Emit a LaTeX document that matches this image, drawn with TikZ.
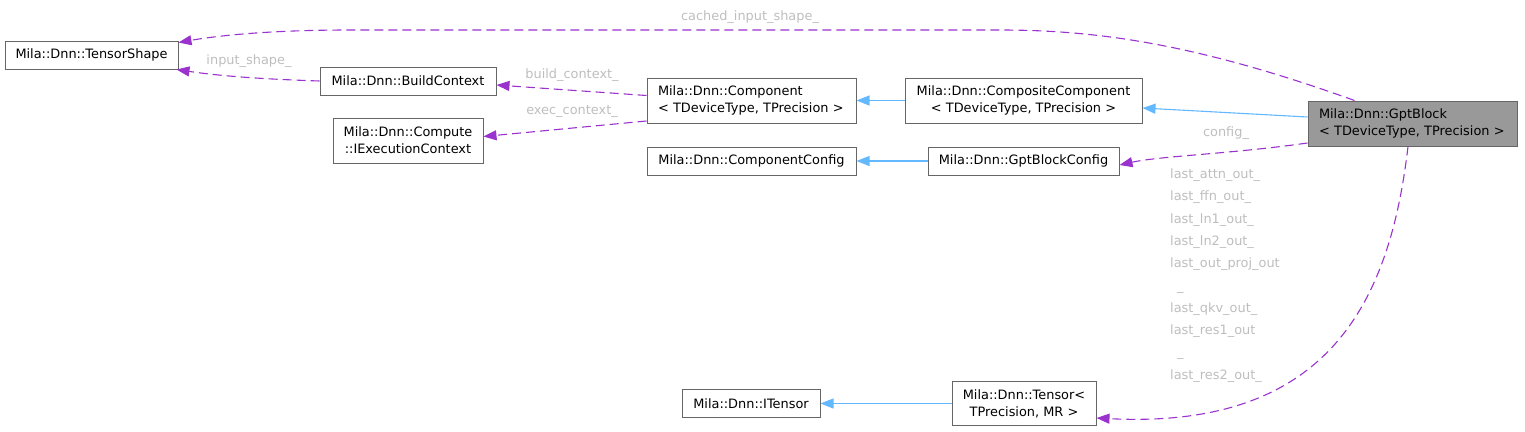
\documentclass[tikz,border=0pt]{standalone}
\usepackage{fontspec}
\setmainfont{DejaVu Sans}
\usetikzlibrary{arrows.meta}
\definecolor{edgepurple}{HTML}{9A32CD}
\definecolor{edgeblue}{HTML}{63B8FF}
\definecolor{boxgray}{HTML}{666666}
\definecolor{labelgray}{HTML}{BEBEBE}
\definecolor{fillgray}{HTML}{999999}
\begin{document}
\begin{tikzpicture}[x=1pt,y=-1pt,
  box/.style={draw=boxgray, line width=1pt, inner sep=0pt, align=center,
    font=\fontsize{12.9}{17}\selectfont},
  leftbox/.style={box, inner xsep=11pt, align=left},
  lbl/.style={text=labelgray, inner sep=0pt, font=\fontsize{12.9}{22.3}\selectfont},
  pedge/.style={draw=edgepurple, line width=1.1pt, dash pattern=on 9pt off 5pt,
    -{Triangle[length=13pt,width=10pt]}},
  bedge/.style={draw=edgeblue, line width=1.1pt, -{Triangle[length=13pt,width=10pt]}}]
\useasboundingbox (0,0) rectangle (1525,431);

% nodes
\node[box, minimum width=173pt, minimum height=28pt] (ts) at (91.5,55) {Mila::Dnn::TensorShape};
\node[box, minimum width=176pt, minimum height=28pt] (bc) at (408,81) {Mila::Dnn::BuildContext};
\node[box, minimum width=150pt, minimum height=45pt] (iec) at (408,140.5) {Mila::Dnn::Compute\\::IExecutionContext};
\node[leftbox, text width=187pt, minimum width=209pt, minimum height=45pt] (comp) at (751.5,100.5) {Mila::Dnn::Component\\< TDeviceType, TPrecision >};
\node[box, minimum width=237pt, minimum height=45pt] (ccomp) at (1023.5,100.5) {Mila::Dnn::CompositeComponent\\< TDeviceType, TPrecision >};
\node[leftbox, fill=fillgray, text width=187pt, minimum width=209pt, minimum height=45pt] (gpt) at (1412.5,123.5) {Mila::Dnn::GptBlock\\< TDeviceType, TPrecision >};
\node[box, minimum width=209pt, minimum height=28pt] (cc) at (751.5,161) {Mila::Dnn::ComponentConfig};
\node[box, minimum width=191pt, minimum height=28pt] (gbc) at (1023.5,161) {Mila::Dnn::GptBlockConfig};
\node[box, minimum width=138pt, minimum height=28pt] (it) at (751,403.5) {Mila::Dnn::ITensor};
\node[box, minimum width=144pt, minimum height=44pt] (tens) at (1024,403.5) {Mila::Dnn::Tensor<\\TPrecision, MR >};

% inheritance edges
\draw[bedge] (ccomp.west) -- (comp.east);
\draw[bedge] ([yshift=6.5pt]gpt.west) -- ([yshift=-7.5pt]ccomp.east);
\draw[bedge] (gbc.west) -- (cc.east);
\draw[bedge] (tens.west) -- (it.east);

% usage edges
\draw[pedge] ([xshift=47pt]gpt.north west) .. controls (1200,45) and (1100,30) .. (1000,30)
  -- (350,30) .. controls (260,30) and (210,37) .. ([yshift=-2pt]ts.north east);
\draw[pedge] (bc.west) .. controls (260,79) and (220,76) .. ([xshift=-2pt]ts.south east);
\draw[pedge] ([yshift=5pt]comp.west) -- ([yshift=-4pt]bc.east);
\draw[pedge] ([yshift=-20.5pt]comp.west) -- ([yshift=4pt]iec.east);
\draw[pedge] ([yshift=-19.5pt]gpt.west) .. controls (1230,154) and (1160,156) .. ([yshift=-4pt]gbc.east);
\draw[pedge] ([xshift=-4.5pt]gpt.south) .. controls (1390,300) and (1330,430) .. ([yshift=-14.5pt]tens.east);

% labels
\node[lbl] (lcached) at (750,17) {cached\_input\_shape\_};
\node[lbl] (linput) at (249,61) {input\_shape\_};
\node[lbl] (lbuild) at (572,75) {build\_context\_};
\node[lbl] (lexec) at (572,111) {exec\_context\_};
\node[lbl] (lconfig) at (1226,133) {config\_};
\node[lbl, anchor=north west, align=left] (llast) at (1170,168.5) {last\_attn\_out\_\\last\_ffn\_out\_\\last\_ln1\_out\_\\last\_ln2\_out\_\\last\_out\_proj\_out\\\hspace*{7pt}\_\\last\_qkv\_out\_\\last\_res1\_out\\\hspace*{7pt}\_\\last\_res2\_out\_};
\end{tikzpicture}
\end{document}
